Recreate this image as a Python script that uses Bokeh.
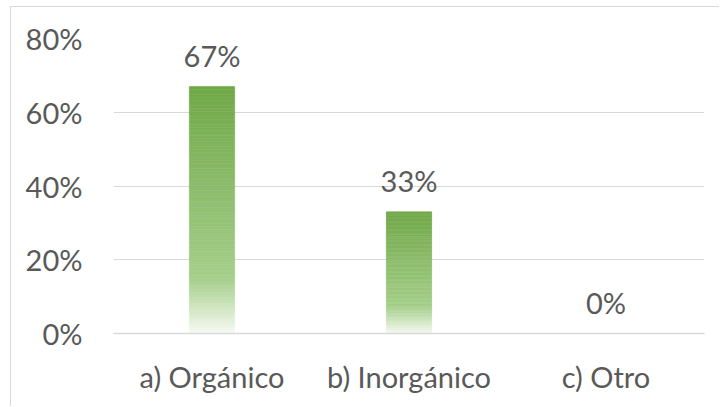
from bokeh.plotting import figure
from bokeh.models import Range1d, FactorRange, NumeralTickFormatter, FixedTicker, ColumnDataSource
from bokeh.core.properties import value
from bokeh.embed import file_html
from bokeh.resources import INLINE

# Data
categories = ["a) Orgánico", "b) Inorgánico", "c) Otro"]
shares = [0.67, 0.33, 0.0]
share_labels = ["67%", "33%", "0%"]
y_ticks = [0, 0.2, 0.4, 0.6, 0.8]

FONT = "Lato"
TEXT_COLOR = "#595959"
GRID_COLOR = "#D9D9D9"

# Gradient stops for the bar fill: (position from top, rgb)
gradient_stops = [
    (0.0, (112, 168, 72)),
    (0.78, (166, 207, 139)),
    (1.0, (246, 250, 243)),
]


def gradient_color(t):
    for (t0, c0), (t1, c1) in zip(gradient_stops[:-1], gradient_stops[1:]):
        if t <= t1:
            f = (t - t0) / (t1 - t0) if t1 > t0 else 0
            r, g, b = (round(a + (b_ - a) * f) for a, b_ in zip(c0, c1))
            return "#%02x%02x%02x" % (r, g, b)
    r, g, b = gradient_stops[-1][1]
    return "#%02x%02x%02x" % (r, g, b)


# Each bar is split into thin horizontal bands to give a vertical gradient
N_BANDS = 90
band_x, band_top, band_bottom, band_color = [], [], [], []
for cat, v in zip(categories, shares):
    if v <= 0:
        continue
    for i in range(N_BANDS):
        lo = v * i / N_BANDS
        hi = v * (i + 1) / N_BANDS
        t = 1 - (i + 0.5) / N_BANDS
        band_x.append(cat)
        band_bottom.append(lo)
        band_top.append(hi)
        band_color.append(gradient_color(t))

bands = ColumnDataSource(dict(x=band_x, top=band_top, bottom=band_bottom, color=band_color))
labels = ColumnDataSource(dict(x=categories, y=shares, text=share_labels))

p = figure(
    width=709,
    height=400,
    x_range=FactorRange(*categories, range_padding=0),
    y_range=Range1d(0, 0.8),
    output_backend="svg",
    toolbar_location=None,
    min_border_left=102,
    min_border_right=16,
    min_border_top=31,
    min_border_bottom=74,
    margin=(6, 0, 0, 10),
    styles={"border-top": "1px solid #D9D9D9", "border-left": "1px solid #D9D9D9"},
)
p.outline_line_color = None
p.background_fill_color = "white"
p.border_fill_color = "white"

p.vbar(x="x", top="top", bottom="bottom", width=0.23, source=bands,
       fill_color="color", line_color="color", line_width=0.6)

p.text(x="x", y="y", text="text", source=labels, text_align="center",
       text_baseline="alphabetic", y_offset=-31, text_font=value(FONT),
       text_font_size="29px", text_color=TEXT_COLOR)

# Axes
p.yaxis.ticker = FixedTicker(ticks=y_ticks)
p.yaxis.formatter = NumeralTickFormatter(format="0%")
p.yaxis.axis_line_color = None
p.yaxis.major_tick_line_color = None
p.yaxis.minor_tick_line_color = None
p.yaxis.major_label_standoff = 25
p.yaxis.major_label_text_font = FONT
p.yaxis.major_label_text_font_size = "29px"
p.yaxis.major_label_text_color = TEXT_COLOR

p.xaxis.axis_line_color = GRID_COLOR
p.xaxis.axis_line_width = 1.5
p.xaxis.major_tick_line_color = None
p.xaxis.minor_tick_line_color = None
p.xaxis.major_label_standoff = 19
p.xaxis.major_label_text_font = FONT
p.xaxis.major_label_text_font_size = "29px"
p.xaxis.major_label_text_color = TEXT_COLOR

p.xgrid.grid_line_color = None
p.ygrid.grid_line_color = GRID_COLOR
p.ygrid.grid_line_width = 1.2

open("out.html", "w").write(file_html(p, INLINE))
